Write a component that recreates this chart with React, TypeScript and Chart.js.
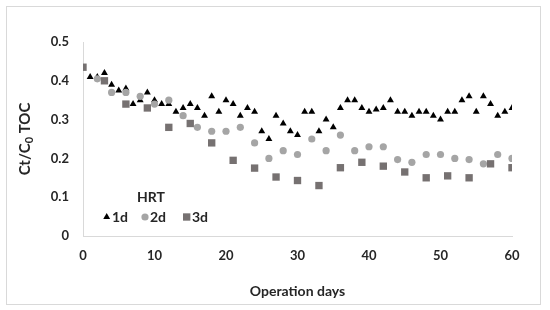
import React, { useEffect, useRef } from "react";
import { Chart, registerables } from "chart.js";

Chart.register(...registerables);

const daysHRT1 = [1, 2, 3, 4, 5, 6, 7, 8, 9, 10, 11, 12, 13, 14, 15, 16, 17, 18, 19, 20, 21, 22, 23, 24, 25, 26, 27, 28, 29, 30, 31, 32, 33, 34, 35, 36, 37, 38, 39, 40, 41, 42, 43, 44, 45, 46, 47, 48, 49, 50, 51, 52, 53, 54, 55, 56, 57, 58, 59, 60];
const valuesHRT1 = [0.41, 0.41, 0.42, 0.39, 0.375, 0.38, 0.34, 0.35, 0.37, 0.35, 0.34, 0.34, 0.32, 0.33, 0.34, 0.33, 0.31, 0.36, 0.32, 0.35, 0.34, 0.31, 0.33, 0.32, 0.27, 0.25, 0.31, 0.29, 0.27, 0.26, 0.32, 0.32, 0.27, 0.30, 0.28, 0.33, 0.35, 0.35, 0.33, 0.32, 0.326, 0.33, 0.35, 0.32, 0.32, 0.31, 0.32, 0.32, 0.31, 0.30, 0.32, 0.32, 0.35, 0.36, 0.32, 0.36, 0.34, 0.31, 0.32, 0.33];

const daysHRT2 = [2, 4, 6, 8, 10, 12, 14, 16, 18, 20, 22, 24, 26, 28, 30, 32, 34, 36, 38, 40, 42, 44, 46, 48, 50, 52, 54, 56, 58, 60];
const valuesHRT2 = [0.405, 0.37, 0.37, 0.36, 0.34, 0.35, 0.31, 0.28, 0.27, 0.27, 0.28, 0.24, 0.20, 0.22, 0.21, 0.25, 0.22, 0.26, 0.22, 0.23, 0.23, 0.197, 0.19, 0.21, 0.21, 0.20, 0.197, 0.186, 0.21, 0.20];

const daysHRT3 = [0, 3, 6, 9, 12, 15, 18, 21, 24, 27, 30, 33, 36, 39, 42, 45, 48, 51, 54, 57, 60];
const valuesHRT3 = [0.435, 0.40, 0.34, 0.33, 0.28, 0.29, 0.24, 0.195, 0.175, 0.152, 0.143, 0.13, 0.176, 0.19, 0.18, 0.165, 0.15, 0.155, 0.15, 0.186, 0.176];

const seriesLabels = ["1d", "2d", "3d"];
const legendTitle = "HRT";
const xTitle = "Operation days";

const FONT = "Lato, 'Open Sans', sans-serif";
const TEXT = "#262626";
const COLORS = ["#000000", "#a5a5a5", "#767171"];
const STYLES = ["triangle", "circle", "rect"];
const RADII = [4, 3.6, 5.2];

const toPoints = (xs: number[], ys: number[]) => xs.map((x, i) => ({ x, y: ys[i] }));

const decorPlugin = {
  id: "decor",
  beforeDraw(chart: any) {
    const ctx = chart.ctx;
    ctx.save();
    ctx.fillStyle = "#ffffff";
    ctx.fillRect(0, 0, chart.width, chart.height);
    ctx.strokeStyle = "#d9d9d9";
    ctx.lineWidth = 1;
    ctx.strokeRect(6.5, 6.5, 534, 298);
    ctx.restore();
  },
  afterDraw(chart: any) {
    const ctx = chart.ctx;
    const area = chart.chartArea;
    ctx.save();
    ctx.fillStyle = TEXT;
    // X title
    ctx.font = `bold 14px ${FONT}`;
    ctx.textAlign = "center";
    ctx.textBaseline = "middle";
    ctx.fillText(xTitle, (area.left + area.right) / 2, 291);
    // Y title with subscript
    ctx.translate(25, (area.top + area.bottom) / 2);
    ctx.rotate(-Math.PI / 2);
    const big = `bold 15px ${FONT}`;
    const small = `bold 11px ${FONT}`;
    const parts = [
      { t: "Ct/C", f: big, dy: 0 },
      { t: "0", f: small, dy: 4 },
      { t: " TOC", f: big, dy: 0 },
    ];
    let total = 0;
    for (const p of parts) {
      ctx.font = p.f;
      total += ctx.measureText(p.t).width;
    }
    let x = -total / 2;
    ctx.textAlign = "left";
    ctx.textBaseline = "middle";
    for (const p of parts) {
      ctx.font = p.f;
      ctx.fillText(p.t, x, p.dy);
      x += ctx.measureText(p.t).width;
    }
    ctx.restore();

    // Legend
    ctx.save();
    ctx.fillStyle = TEXT;
    ctx.font = `bold 14px ${FONT}`;
    ctx.textAlign = "center";
    ctx.textBaseline = "middle";
    ctx.fillText(legendTitle, 151, 197);
    const markerX = [106.7, 145, 186.7];
    const textX = [112, 150, 192];
    const ly = 217;
    for (let i = 0; i < 3; i++) {
      ctx.fillStyle = COLORS[i];
      ctx.strokeStyle = COLORS[i];
      (Chart as any).helpers
        ? null
        : null;
      drawMarker(ctx, STYLES[i], markerX[i], ly, RADII[i]);
      ctx.fillStyle = TEXT;
      ctx.textAlign = "left";
      ctx.fillText(seriesLabels[i], textX[i], ly);
    }
    ctx.restore();
  },
};

function drawMarker(ctx: CanvasRenderingContext2D, style: string, x: number, y: number, r: number) {
  ctx.beginPath();
  if (style === "triangle") {
    let rad = 0;
    ctx.moveTo(x + Math.sin(rad) * r, y - Math.cos(rad) * r);
    rad += (2 * Math.PI) / 3;
    ctx.lineTo(x + Math.sin(rad) * r, y - Math.cos(rad) * r);
    rad += (2 * Math.PI) / 3;
    ctx.lineTo(x + Math.sin(rad) * r, y - Math.cos(rad) * r);
    ctx.closePath();
  } else if (style === "circle") {
    ctx.arc(x, y, r, 0, Math.PI * 2);
  } else {
    const s = r * Math.SQRT1_2;
    ctx.rect(x - s, y - s, 2 * s, 2 * s);
  }
  ctx.fill();
}

export default function App() {
  const ref = useRef<HTMLCanvasElement | null>(null);

  useEffect(() => {
    if (!ref.current) return;
    const data = [
      toPoints(daysHRT1, valuesHRT1),
      toPoints(daysHRT2, valuesHRT2),
      toPoints(daysHRT3, valuesHRT3),
    ];
    const chart = new Chart(ref.current, {
      type: "scatter",
      data: {
        datasets: data.map((d, i) => ({
          label: seriesLabels[i],
          data: d,
          pointStyle: STYLES[i] as any,
          pointRadius: RADII[i],
          pointBackgroundColor: COLORS[i],
          pointBorderColor: COLORS[i],
          pointBorderWidth: 0,
          showLine: false,
          order: 3 - i,
        })),
      },
      options: {
        responsive: false,
        animation: false,
        events: [],
        layout: { padding: { top: 42, right: 38, left: 0, bottom: 0 } },
        plugins: {
          legend: { display: false },
          tooltip: { enabled: false },
          title: { display: false },
        },
        scales: {
          x: {
            type: "linear",
            min: 0,
            max: 60,
            ticks: {
              stepSize: 10,
              padding: 12,
              color: TEXT,
              font: { family: FONT, size: 13, weight: "bold" },
            },
            grid: { display: false, drawTicks: false },
            border: { display: true, color: "#d9d9d9", width: 1 },
            afterFit: (s: any) => {
              s.height = 74;
            },
          },
          y: {
            type: "linear",
            min: 0,
            max: 0.5,
            ticks: {
              stepSize: 0.1,
              padding: 14,
              color: TEXT,
              font: { family: FONT, size: 13, weight: "bold" },
              callback: (v: any) => (Number(v) === 0 ? "0" : Number(v).toFixed(1)),
            },
            grid: { display: false, drawTicks: false },
            border: { display: true, color: "#d9d9d9", width: 1 },
            afterFit: (s: any) => {
              s.width = 83;
            },
          },
        },
      },
      plugins: [decorPlugin],
    });
    return () => chart.destroy();
  }, []);

  return (
    <div style={{ position: "absolute", left: 0, top: 0, width: 550, height: 310 }}>
      <canvas ref={ref} width={550} height={310} style={{ display: "block" }} />
    </div>
  );
}
